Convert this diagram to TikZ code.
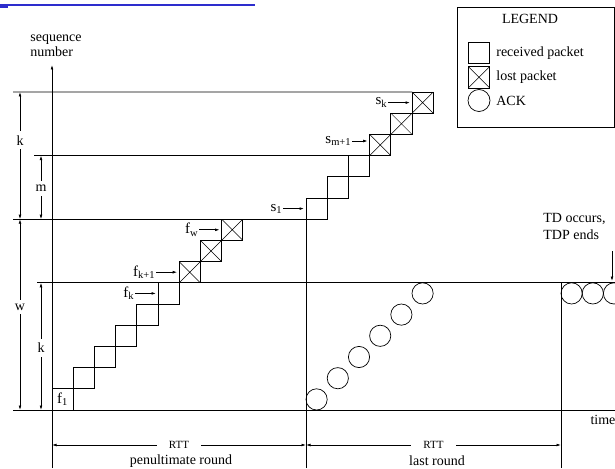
\documentclass[tikz,border=0pt]{standalone}
\usepackage{fontspec}
\setmainfont{Liberation Serif}
\usetikzlibrary{arrows.meta}
\definecolor{titleblue}{RGB}{45,45,205}
\begin{document}
\begin{tikzpicture}[x=1pt,y=-1pt, line width=0.7pt,
  every node/.style={font=\fontsize{14}{15}\selectfont, inner sep=1pt},
  tip/.style={-{Latex[length=4.5pt,width=2.8pt]}},
  dtip/.style={{Latex[length=4.5pt,width=2.8pt]}-{Latex[length=4.5pt,width=2.8pt]}},
  rcv/.style={draw, rectangle, minimum size=21.2pt, inner sep=0pt, outer sep=0pt},
  lost/.style={rcv, path picture={\draw[line width=0.5pt]
      (path picture bounding box.north west) -- (path picture bounding box.south east)
      (path picture bounding box.north east) -- (path picture bounding box.south west);}},
  ack/.style={draw, circle, minimum size=21.2pt, inner sep=0pt, outer sep=0pt},
  lab/.style={font=\fontsize{15}{16}\selectfont, anchor=east, inner sep=0.5pt},
  dimlab/.style={fill=white, inner ysep=4pt, inner xsep=2pt},
]
\useasboundingbox (0,0) rectangle (615,468);
\def\d{21.2}

% clipped title underline
\fill[titleblue] (0,4.3) rectangle (255,5.8);
\fill[titleblue] (0,5.8) rectangle (7.5,8.3);

% packets of the penultimate round
\foreach \i in {1,...,6}
  \node[rcv] (f\i) at ({52+(\i-0.5)*\d},{410-(\i-0.5)*\d}) {};
\foreach \i in {7,8,9}
  \node[lost] (f\i) at ({52+(\i-0.5)*\d},{410-(\i-0.5)*\d}) {};
% packets of the last round
\foreach \i in {1,2,3}
  \node[rcv] (s\i) at ({306+(\i-0.5)*\d},{219.2-(\i-0.5)*\d}) {};
\foreach \i in {4,5,6}
  \node[lost] (s\i) at ({306+(\i-0.5)*\d},{219.2-(\i-0.5)*\d}) {};
% ACKs
\foreach \i in {1,...,6}
  \node[ack] (a\i) at ({306+(\i-0.5)*\d},{410-(\i-0.5)*\d}) {};
\foreach \i/\x in {1/571.6,2/592.8,3/614}
  \node[ack] (t\i) at (\x,293.4) {};

% horizontal guide lines
\coordinate (top0) at (13,92);
\draw (top0) -- (s6.north west);
\coordinate (m0) at (34,155.6);
\draw (m0) -- (s4.south west);
\coordinate (w0) at (13,219.2);
\draw (w0) -- (s1.south west);
\coordinate (k0) at (37,282.8);
\coordinate (k1) at (615,282.8);
\draw (k0) -- (k1);
\coordinate (b0) at (13,410);
\coordinate (b1) at (615,410);
\draw (b0) -- (b1);

% vertical lines
\coordinate (yb) at (52,468);
\coordinate (yt) at (52,65);
\draw[tip] (yb) -- (yt);
\coordinate (lrb) at (306,468);
\draw (lrb) -- (s1.south west);
\coordinate (tdb) at (561,468);
\coordinate (tdt) at (561,282.8);
\draw (tdb) -- (tdt);

% axis labels
\node[anchor=west, align=left, inner sep=0pt] (seq) at (30,45.5) {sequence\\number};
\node (time) at (603,420) {time};

% left dimensions
\coordinate (dk1t) at (20,92);
\coordinate (dk1b) at (20,219.2);
\coordinate (dwb) at (20,410);
\draw[dtip] (dk1t) -- node[dimlab, pos=0.38] {k} (dk1b);
\draw[dtip] (dk1b) -- node[dimlab, pos=0.46] {w} (dwb);
\coordinate (dmt) at (41,155.6);
\coordinate (dmb) at (41,219.2);
\draw[dtip] (dmt) -- node[dimlab, pos=0.52] {m} (dmb);
\coordinate (dk2t) at (41,282.8);
\coordinate (dk2b) at (41,410);
\draw[dtip] (dk2t) -- node[dimlab, pos=0.51] {k} (dk2b);

% RTT dimensions
\coordinate (r0) at (52,445);
\coordinate (r1) at (306,445);
\coordinate (r2) at (561,445);
\draw[dtip] (r0) -- node[fill=white, inner xsep=12pt, font=\fontsize{11}{12}\selectfont] {RTT} (r1);
\draw[dtip] (r1) -- node[fill=white, inner xsep=12pt, font=\fontsize{11}{12}\selectfont] {RTT} (r2);
\node (pen) at (181,461) {penultimate round};
\node (last) at (437,461) {last round};

% packet labels
\coordinate (lsk) at (388,102.6);
\node[lab] at (lsk) {s\textsubscript{k}};
\draw[tip, shorten >=2pt] (lsk) -- (lsk -| s6.west);
\coordinate (lsm) at (352,141);
\node[lab] at (lsm) {s\textsubscript{m+1}};
\draw[tip, shorten >=2pt] (lsm) -- (lsm -| s4.west);
\coordinate (ls1) at (283,208.6);
\node[lab] at (ls1) {s\textsubscript{1}};
\draw[tip, shorten >=2pt] (ls1) -- (ls1 -| s1.west);
\coordinate (lfw) at (199,229.8);
\node[lab] at (lfw) {f\textsubscript{w}};
\draw[tip, shorten >=2pt] (lfw) -- (lfw -| f9.west);
\coordinate (lfk1) at (156,272.2);
\node[lab] at (lfk1) {f\textsubscript{k+1}};
\draw[tip, shorten >=2pt] (lfk1) -- (lfk1 -| f7.west);
\coordinate (lfk) at (135,293.4);
\node[lab] at (lfk) {f\textsubscript{k}};
\draw[tip, shorten >=2pt] (lfk) -- (lfk -| f6.west);
\node[font=\fontsize{15}{16}\selectfont] at (f1.center) {f\textsubscript{1}};

% TD annotation
\node[anchor=west, align=left, inner sep=0pt, font=\fontsize{14}{17}\selectfont] (td) at (543,226.5) {TD occurs,\\TDP ends};
\coordinate (tda) at (612,251);
\coordinate (tdz) at (612,281);
\draw[tip] (tda) -- (tdz);

% legend
\node[draw, minimum width=157pt, minimum height=120pt, inner sep=0pt] (leg) at (535.5,67) {};
\node (legt) at (530,19) {LEGEND};
\node[rcv] (lgr) at (479,53) {};
\node[anchor=west] at (495,53) {received packet};
\node[lost] (lgl) at (479,77.3) {};
\node[anchor=west] at (495,77.3) {lost packet};
\node[ack, minimum size=22pt] (lga) at (479,100.5) {};
\node[anchor=west] at (495,100.5) {ACK};
\end{tikzpicture}
\end{document}
